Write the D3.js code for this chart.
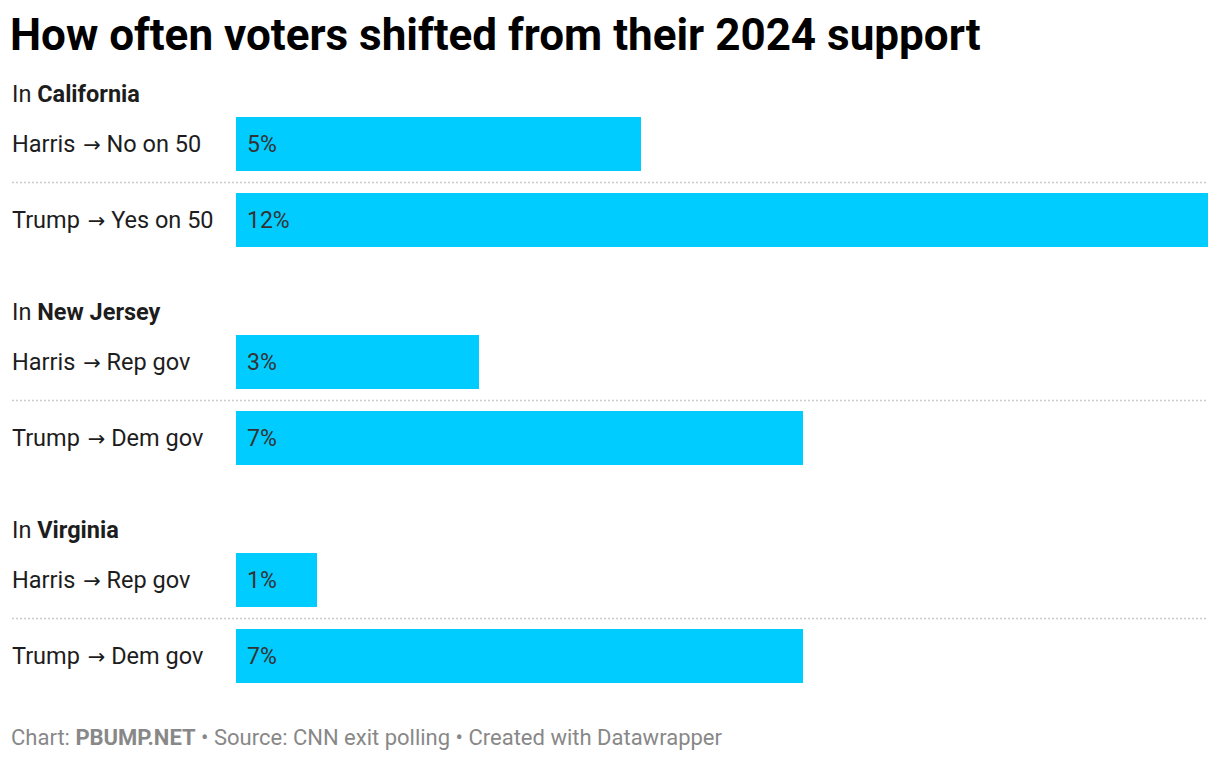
<!DOCTYPE html>
<html>
<head>
<meta charset="utf-8">
<style>
  body { margin: 0; background: #fff; font-family: Roboto, 'Noto Sans', sans-serif; }
  svg { display: block; }
</style>
</head>
<body>
<svg width="1220" height="760"></svg>
<script src="https://d3js.org/d3.v7.min.js"></script>
<script>
// data
const states = ["California", "New Jersey", "Virginia"];
const fromLabels = [
  ["Harris", "Trump"],
  ["Harris", "Trump"],
  ["Harris", "Trump"]
];
const toLabels = [
  ["No on 50", "Yes on 50"],
  ["Rep gov", "Dem gov"],
  ["Rep gov", "Dem gov"]
];
const values = [
  [5, 12],
  [3, 7],
  [1, 7]
];

const svg = d3.select("svg");

// title
svg.append("text")
  .attr("x", 10).attr("y", 50)
  .attr("font-size", 44).attr("font-weight", 700)
  .attr("fill", "#000")
  .text("How often voters shifted from their 2024 support");

const x = d3.scaleLinear().domain([0, 12]).range([236, 1208]);

const groupY = d3.scaleLinear().domain([0, 1]).range([94, 312]); // header centers
const rowStep = 76;
const barH = 54;

states.forEach((st, gi) => {
  const gy = groupY(gi);
  const g = svg.append("g");

  const head = g.append("text")
    .attr("x", 12).attr("y", gy)
    .attr("dy", "0.35em")
    .attr("font-size", 23.5).attr("fill", "#1d1d1d");
  head.append("tspan").text("In ");
  head.append("tspan").attr("font-weight", 700).text(st);

  const rows = values[gi].map((v, i) => ({
    v, from: fromLabels[gi][i], to: toLabels[gi][i], cy: gy + 50 + i * rowStep
  }));

  // separators between rows
  rows.slice(1).forEach(r => {
    g.append("line")
      .attr("x1", 12).attr("x2", 1208)
      .attr("y1", r.cy - 37.5).attr("y2", r.cy - 37.5)
      .attr("stroke", "#cccccc").attr("stroke-width", 1.5)
      .attr("stroke-dasharray", "2,2");
  });

  const lab = g.selectAll(".lab").data(rows).join("text")
    .attr("class", "lab")
    .attr("x", 12).attr("y", d => d.cy)
    .attr("dy", "0.35em")
    .attr("font-size", 23.5).attr("fill", "#1d1d1d");
  lab.append("tspan").text(d => d.from + " ");
  lab.append("tspan")
    .attr("font-family", "'DejaVu Sans'").attr("font-size", 21)
    .attr("dx", 2)
    .text("\u2192");
  lab.append("tspan").text(d => " " + d.to);

  g.selectAll("rect").data(rows).join("rect")
    .attr("x", x(0)).attr("y", d => d.cy - barH / 2)
    .attr("width", d => x(d.v) - x(0)).attr("height", barH)
    .attr("fill", "#00ccff");

  g.selectAll(".val").data(rows).join("text")
    .attr("class", "val")
    .attr("x", x(0) + 11).attr("y", d => d.cy)
    .attr("dy", "0.35em")
    .attr("font-size", 23).attr("fill", "#333")
    .text(d => d.v + "%");
});

// footer
const foot = svg.append("text")
  .attr("x", 11).attr("y", 737)
  .attr("dy", "0.35em")
  .attr("font-size", 22).attr("fill", "#888");
foot.append("tspan").text("Chart: ");
foot.append("tspan").attr("font-weight", 700).text("PBUMP.NET");
foot.append("tspan").text(" \u2022 Source: CNN exit polling \u2022 Created with Datawrapper");
</script>
</body>
</html>
